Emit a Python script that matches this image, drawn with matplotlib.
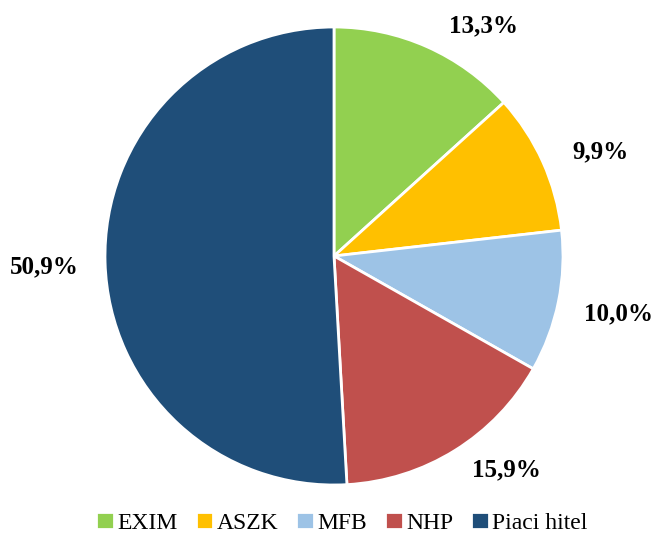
import matplotlib
matplotlib.use("Agg")
import matplotlib.pyplot as plt
import numpy as np

categories = ["EXIM", "ASZK", "MFB", "NHP", "Piaci hitel"]
values = [13.3, 9.9, 10.0, 15.9, 50.9]
colors = ["#92D050", "#FFC000", "#9DC3E6", "#C0504D", "#1F4E79"]

plt.rcParams['font.family'] = ['Liberation Serif', 'DejaVu Serif']

fig = plt.figure(figsize=(6.52, 5.34), dpi=100)
ax = fig.add_axes([(334 - 229) / 652, (534 - 256 - 229) / 534, 458 / 652, 458 / 534])

wedges, texts = ax.pie(values, colors=colors, startangle=90, counterclock=False,
                       radius=1.0, wedgeprops=dict(edgecolor="white", linewidth=2))

# label placement nudges (degrees, radius)
angle_nudge = [-9, -3, 0, 7, 0.5]
label_r = [1.20, 1.25, 1.27, 1.20, 1.265]

cum = np.cumsum([0] + values[:-1])
for v, c, dn, r in zip(values, cum, angle_nudge, label_r):
    mid = np.deg2rad(90 - (c + v / 2) / 100 * 360 + dn)
    ax.text(r * np.cos(mid), r * np.sin(mid), f"{v:.1f}%".replace(".", ","),
            ha="center", va="center", fontsize=18, fontweight="bold")

ax.set_xlim(-1, 1)
ax.set_ylim(-1, 1)
ax.set_aspect("auto")
ax.axis("off")

leg = fig.legend(wedges, categories, loc="center", bbox_to_anchor=(342 / 652, 1 - 523 / 534),
                 ncol=5, frameon=False, fontsize=17, handlelength=0.75, handleheight=0.75,
                 handletextpad=0.15, columnspacing=0.75)

fig.savefig("out.png", dpi=100)
